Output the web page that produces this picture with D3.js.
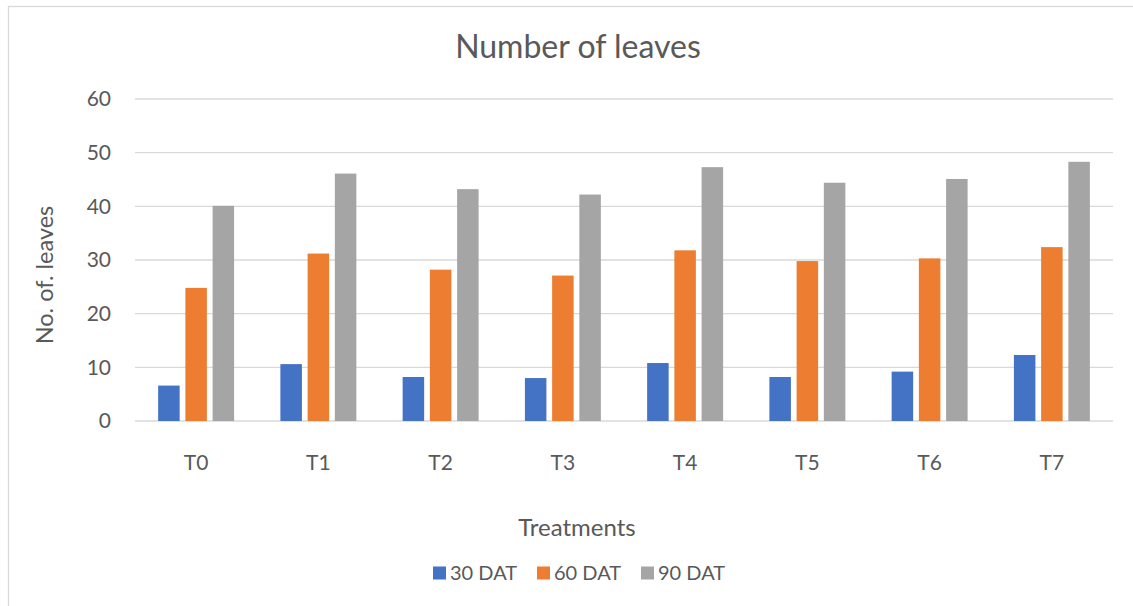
<!DOCTYPE html>
<html>
<head>
<meta charset="utf-8">
<script src="https://cdn.jsdelivr.net/npm/d3@7"></script>
<style>
  body { margin: 0; background: #fff; }
  text { font-family: Lato, "Open Sans", sans-serif; fill: #595959; }
</style>
</head>
<body>
<div id="chart"></div>
<script>
const treatments = ["T0", "T1", "T2", "T3", "T4", "T5", "T6", "T7"];
const seriesNames = ["30 DAT", "60 DAT", "90 DAT"];
const dat30 = [6.6, 10.6, 8.2, 8.0, 10.8, 8.2, 9.2, 12.3];
const dat60 = [24.8, 31.2, 28.2, 27.1, 31.8, 29.8, 30.3, 32.4];
const dat90 = [40.1, 46.1, 43.2, 42.2, 47.3, 44.4, 45.1, 48.3];
const yTicks = [0, 10, 20, 30, 40, 50, 60];
const colors = ["#4472C4", "#ED7D31", "#A5A5A5"];

const width = 1133;
const height = 606;
const plot = { left: 135, right: 1113, top: 99, bottom: 421 };

const svg = d3.select("#chart")
  .append("svg")
    .attr("width", width)
    .attr("height", height);

// chart border (right and bottom edges fall outside the picture)
svg.append("rect")
  .attr("x", 8.5)
  .attr("y", 6.5)
  .attr("width", width + 20)
  .attr("height", height + 20)
  .attr("fill", "none")
  .attr("stroke", "#d9d9d9")
  .attr("stroke-width", 1.3);

const x0 = d3.scaleBand()
  .domain(treatments)
  .range([plot.left, plot.right])
  .padding(0);

const x1 = d3.scaleBand()
  .domain(seriesNames)
  .range([0, x0.bandwidth()])
  .paddingInner(0.21)
  .paddingOuter(0.85);

const y = d3.scaleLinear()
  .domain([0, 60])
  .range([plot.bottom, plot.top]);

// gridlines
svg.append("g")
  .selectAll("line")
  .data(yTicks)
  .join("line")
    .attr("x1", plot.left)
    .attr("x2", plot.right)
    .attr("y1", d => y(d))
    .attr("y2", d => y(d))
    .attr("stroke", "#d9d9d9")
    .attr("stroke-width", 1.4);

// y tick labels
svg.append("g")
  .selectAll("text")
  .data(yTicks)
  .join("text")
    .attr("x", 111)
    .attr("y", d => y(d))
    .attr("dy", "0.35em")
    .attr("text-anchor", "end")
    .style("font-size", "21px")
    .text(d => d);

// bars
const seriesData = [dat30, dat60, dat90];
seriesData.forEach((values, si) => {
  svg.append("g")
    .selectAll("rect")
    .data(values)
    .join("rect")
      .attr("x", (d, i) => x0(treatments[i]) + x1(seriesNames[si]))
      .attr("y", d => y(d))
      .attr("width", x1.bandwidth())
      .attr("height", d => y(0) - y(d))
      .attr("fill", colors[si]);
});

// x tick labels
svg.append("g")
  .selectAll("text")
  .data(treatments)
  .join("text")
    .attr("x", d => x0(d) + x0.bandwidth() / 2)
    .attr("y", 463)
    .attr("dy", "0.35em")
    .attr("text-anchor", "middle")
    .style("font-size", "21px")
    .text(d => d);

// title
svg.append("text")
  .attr("x", 578)
  .attr("y", 47)
  .attr("dy", "0.35em")
  .attr("text-anchor", "middle")
  .style("font-size", "32px")
  .text("Number of leaves");

// axis titles
svg.append("text")
  .attr("x", 577)
  .attr("y", 528)
  .attr("dy", "0.35em")
  .attr("text-anchor", "middle")
  .style("font-size", "24px")
  .text("Treatments");

svg.append("text")
  .attr("transform", "translate(45,275) rotate(-90)")
  .attr("dy", "0.35em")
  .attr("text-anchor", "middle")
  .style("font-size", "23.5px")
  .text("No. of. leaves");

// legend
const legendX = [433, 537, 641];
const legend = svg.append("g")
  .selectAll("g")
  .data(seriesNames)
  .join("g")
    .attr("transform", (d, i) => `translate(${legendX[i]},573)`);

legend.append("rect")
  .attr("x", 0)
  .attr("y", -6.5)
  .attr("width", 13)
  .attr("height", 13)
  .attr("fill", (d, i) => colors[i]);

legend.append("text")
  .attr("x", 17)
  .attr("y", 0)
  .attr("dy", "0.35em")
  .style("font-size", "20px")
  .text(d => d);
</script>
</body>
</html>
